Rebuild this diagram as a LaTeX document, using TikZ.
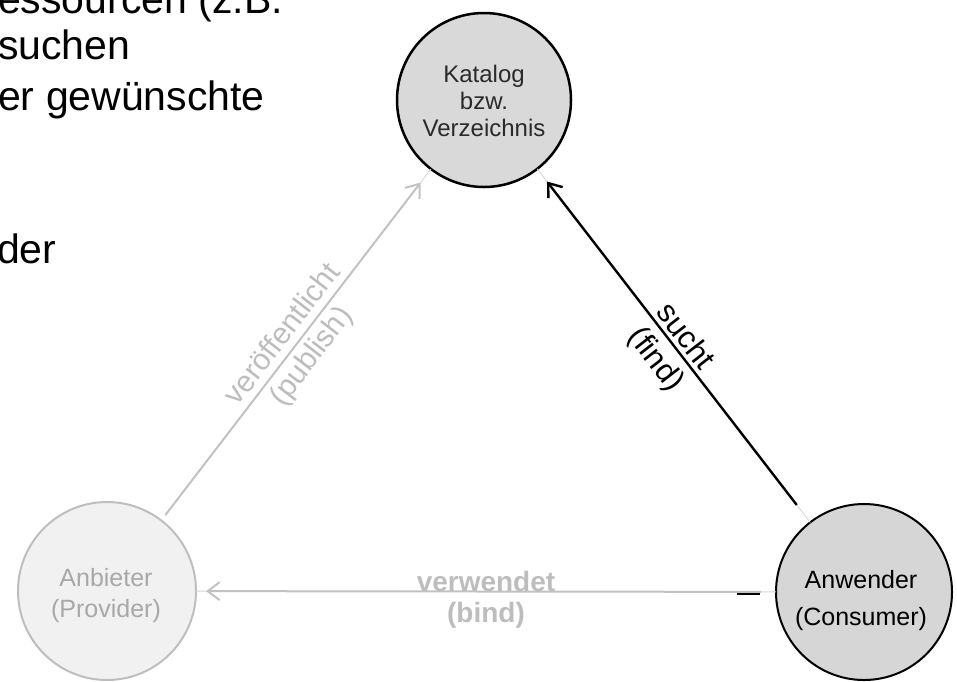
\documentclass[tikz,border=0pt]{standalone}
\usepackage{fontspec}
\setmainfont{Liberation Sans}
\usetikzlibrary{arrows.meta}

\definecolor{katfill}{HTML}{D9D9D9}
\definecolor{anwfill}{HTML}{D6D6D6}
\definecolor{anbfill}{HTML}{F1F1F1}
\definecolor{anbline}{HTML}{BEBEBE}
\definecolor{lightline}{HTML}{C2C2C2}
\definecolor{faintline}{HTML}{D4D4D4}
\definecolor{lighttext}{HTML}{BDBDBD}
\definecolor{anbtext}{HTML}{A8A8A8}
\definecolor{kattext}{HTML}{2A2A2A}

\begin{document}
\begin{tikzpicture}[x=1pt,y=-1pt,
  role/.style={circle, inner sep=0pt, outer sep=0pt},
  roletext/.style={align=center, inner sep=0pt},
  bodytext/.style={anchor=base west, inner sep=0pt, font=\fontsize{41}{49}\selectfont},
  barb/.style={-{Straight Barb[length=12pt,width=18pt]}},
  thinlink/.style={draw=faintline, line width=0.8pt},
  edgelabel/.style={sloped, align=center, inner sep=0pt},
]
\useasboundingbox (0,0) rectangle (957,681);
\clip (0,0) rectangle (957,681);

% running text at the upper left
\node[bodytext] (t1) at (-2,13) {essourcen (z.B.};
\node[bodytext] (t2) at (-2,59) {suchen};
\node[bodytext] (t3) at (-2,110) {er gewünschte};
\node[bodytext] (t4) at (-3,263) {der};

% the three roles
\node[role, fill=katfill, draw=black, line width=2.5pt, minimum size=174pt] (kat) at (484,100) {};
\node[role, fill=anbfill, draw=anbline, line width=2pt, minimum size=178pt] (anb) at (107,591) {};
\node[role, fill=anwfill, draw=black, line width=2pt, minimum size=176pt] (anw) at (864,592) {};

\node[roletext, text=kattext, font=\fontsize{24}{27}\selectfont] (kattxt) at (484,101) {Katalog\\bzw.\\Verzeichnis};
\node[roletext, text=anbtext, font=\fontsize{25}{31}\selectfont] (anbtxt) at (106,596) {Anbieter\\(Provider)};
\node[roletext, text=black, font=\fontsize{25}{37}\selectfont] (anwtxt) at (861,601) {Anwender\\(Consumer)};

% faint full-length traces under the connectors
\draw[thinlink, shorten <=6pt] (anb) -- (kat);
\draw[thinlink] (anw) -- (kat);
\draw[thinlink] (anw) -- (anb);

% publish
\draw[barb, draw=lightline, line width=2pt, shorten <=7pt, shorten >=17pt] (anb) -- (kat);
\path (anb) -- node[edgelabel, pos=0.5, text=lighttext, font=\fontsize{30}{36}\selectfont, yshift=-2pt] (publab) {veröffentlicht\\(publish)} (kat);

% find
\draw[barb, draw=black, line width=2.4pt, shorten <=22pt, shorten >=16pt] (anw) -- (kat);
\path (kat) -- node[edgelabel, pos=0.5, text=black, font=\fontsize{31}{37}\selectfont, yshift=-5pt] (findlab) {sucht\\(find)} (anw);

% bind
\draw[barb, draw=lightline, line width=2pt, shorten <=15pt, shorten >=10pt] (anw) -- (anb);
\path (anw) -- node[align=center, inner sep=0pt, pos=0.5, text=lighttext, font=\bfseries\fontsize{28}{31}\selectfont, yshift=-8pt] (bindlab) {verwendet\\(bind)} (anb);

% short dark mark on the bind line
\coordinate (markA) at (737,594);
\coordinate (markB) at (760,594);
\draw[black, line width=2.6pt] (markA) -- (markB);
\end{tikzpicture}
\end{document}
